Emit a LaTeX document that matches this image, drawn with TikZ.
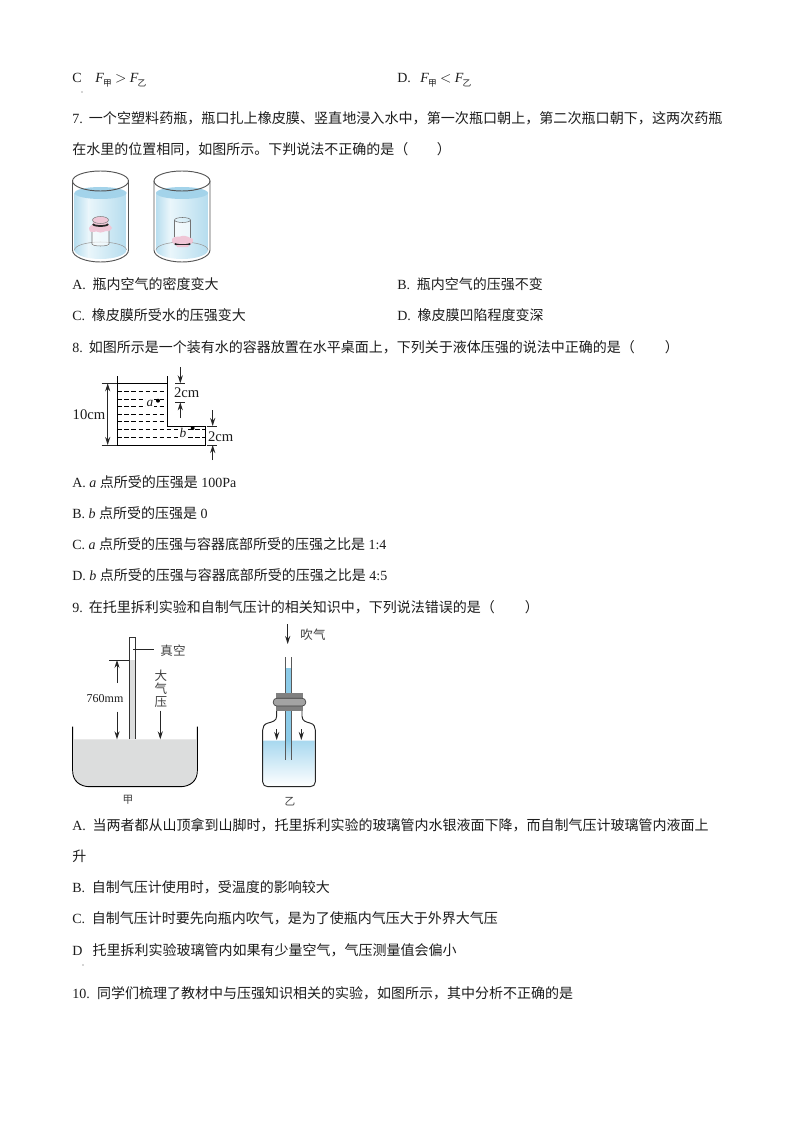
\documentclass[tikz,border=0pt]{standalone}
\usepackage{fontspec}
\setmainfont{Liberation Serif}
\newfontfamily\cjk{Noto Sans CJK SC}
\definecolor{txt}{HTML}{1C1C1C}
\definecolor{watertop}{HTML}{A3D3EA}
\definecolor{waterside}{HTML}{B4DCEE}
\definecolor{waterlite}{HTML}{EAF6FB}
\definecolor{memb}{HTML}{EFC6D6}
\definecolor{glass}{HTML}{555555}
\definecolor{merc}{HTML}{DCDDDD}
\definecolor{tubeblue}{HTML}{8CCBE8}
\definecolor{jarblue}{HTML}{A8D8EF}
\usetikzlibrary{arrows.meta}
\tikzset{
  line/.style={font=\fontsize{10.5pt}{12pt}\selectfont,text=txt,anchor=base west,inner sep=0pt},
  wideline/.style={line,font=\fontsize{10.56pt}{12pt}\selectfont},
  lab/.style={font=\fontsize{11pt}{12pt}\selectfont,text=txt,inner sep=0pt},
  clab/.style={font=\cjk\fontsize{9.4pt}{10pt}\selectfont,text=black!75,inner sep=0pt},
  slab/.style={font=\cjk\fontsize{8pt}{9pt}\selectfont,text=black!75,inner sep=0pt},
  dim/.style={-{Stealth[length=6pt,width=3.8pt]},line width=0.7pt,black!85},
  thin2/.style={line width=0.7pt,black!85},
  cylwall/.style={line width=0.7pt,glass},
}
\newcommand{\Fsub}[1]{{\itshape F}\kern-0.5pt\raisebox{-2.5pt}{\cjk\fontsize{6.5pt}{7pt}\selectfont #1}}
\newcommand{\glasscyl}[1]{%
  \begin{scope}
    \clip (#1-26,193) -- (#1-26,250) arc[start angle=180,end angle=0,x radius=26,y radius=9] -- (#1+26,193) -- cycle;
    \shade[left color=waterside,right color=waterlite] (#1-27,190) rectangle (#1-12,262);
    \shade[left color=waterlite,right color=waterside] (#1-12.1,190) rectangle (#1+27,262);
  \end{scope}
  \draw[line width=0.4pt,black!40] (#1-26,250) arc[start angle=180,end angle=0,x radius=26,y radius=-8];
  \fill[watertop] (#1,193) ellipse[x radius=26,y radius=6];
  \draw[cylwall] (#1,181) ellipse[x radius=28,y radius=10];
  \draw[cylwall] (#1-28,181) -- (#1-28,250) arc[start angle=180,end angle=0,x radius=28,y radius=12] -- (#1+28,181);
}
\begin{document}
\begin{tikzpicture}[x=0.75pt,y=-0.75pt]
\useasboundingbox (0,0) rectangle (794,1123);
\fill[white] (0,0) rectangle (794,1123);

% text lines
\node[line] (c6) at (72,83) {C};
\fill[black!70] (82,92) circle[radius=0.6];
\node[line] (c6f) at (95,83) {\Fsub{甲}\kern2.5pt${>}$\kern2.5pt\Fsub{乙}};
\node[line] (d6) at (397,83) {D.};
\node[line] (d6f) at (420,83) {\Fsub{甲}\kern2.5pt${<}$\kern2.5pt\Fsub{乙}};

\node[wideline] (q7a) at (72,124) {7. \kern1pt{\cjk 一个空塑料药瓶，瓶口扎上橡皮膜、竖直地浸入水中，第一次瓶口朝上，第二次瓶口朝下，这两次药瓶}};
\node[line] (q7b) at (72,154.5) {{\cjk 在水里的位置相同，如图所示。下判说法不正确的是（\hspace{21.5pt}）}};
\node[line] (a7) at (72,289) {A. \kern2.5pt{\cjk 瓶内空气的密度变大}};
\node[line] (b7) at (397,289) {B. \kern2.5pt{\cjk 瓶内空气的压强不变}};
\node[line] (c7) at (72,320) {C. \kern2.5pt{\cjk 橡皮膜所受水的压强变大}};
\node[line] (d7) at (397,320) {D. \kern2.5pt{\cjk 橡皮膜凹陷程度变深}};
\node[line] (q8) at (72,352) {8. \kern1pt{\cjk 如图所示是一个装有水的容器放置在水平桌面上，下列关于液体压强的说法中正确的是（\hspace{22.5pt}）}};
\node[line] (a8) at (72,487) {A. {\itshape a} {\cjk 点所受的压强是} 100Pa};
\node[line] (b8) at (72,518) {B. {\itshape b} {\cjk 点所受的压强是} 0};
\node[line] (c8) at (72,549) {C. {\itshape a} {\cjk 点所受的压强与容器底部所受的压强之比是} 1:4};
\node[line] (d8) at (72,580) {D. {\itshape b} {\cjk 点所受的压强与容器底部所受的压强之比是} 4:5};
\node[line] (q9) at (72,612) {9. \kern1pt{\cjk 在托里拆利实验和自制气压计的相关知识中，下列说法错误的是（\hspace{22.5pt}）}};
\node[line] (a9a) at (72,830) {A. \kern2.5pt{\cjk 当两者都从山顶拿到山脚时，托里拆利实验的玻璃管内水银液面下降，而自制气压计玻璃管内液面上}};
\node[line] (a9b) at (72,861) {{\cjk 升}};
\node[line] (b9) at (72,892) {B. \kern2.5pt{\cjk 自制气压计使用时，受温度的影响较大}};
\node[line] (c9) at (72,923) {C. \kern2.5pt{\cjk 自制气压计时要先向瓶内吹气，是为了使瓶内气压大于外界大气压}};
\node[line] (d9) at (72,955) {D \kern5pt{\cjk 托里拆利实验玻璃管内如果有少量空气，气压测量值会偏小}};
\fill[black!70] (83,965) circle[radius=0.6];
\node[line] (q10) at (72,998) {10. \kern2pt{\cjk 同学们梳理了教材中与压强知识相关的实验，如图所示，其中分析不正确的是}};

% ---------- Q7 cylinders
\glasscyl{100.5}
\glasscyl{182}
% bottle opening up
\fill[white,opacity=.6] (92,226) rectangle (109,246);
\draw[line width=0.4pt,black!55] (92,226) -- (92,244) arc[start angle=180,end angle=0,x radius=8.5,y radius=2] -- (109,226);
\fill[memb] (89,228) .. controls (91,224) and (93,226) .. (93,222) -- (108,222) .. controls (108,226) and (110,224) .. (112,228) .. controls (110,233) and (106,230) .. (103,232) .. controls (99,234) and (97,230) .. (94,232) .. controls (92,233) and (89,232) .. (89,228) -- cycle;
\fill[memb] (100.5,220) ellipse[x radius=8,y radius=3.5];
\draw[line width=0.4pt,black!50] (100.5,220) ellipse[x radius=8,y radius=3.5];
\draw[line width=1.3pt,black!85] (93,224) arc[start angle=180,end angle=0,x radius=7.5,y radius=2];
% bottle opening down
\fill[white,opacity=.6] (175,222) rectangle (191,240);
\draw[line width=0.4pt,black!55] (182.5,220) ellipse[x radius=8,y radius=2.5];
\draw[line width=0.4pt,black!55] (174.5,220) -- (174.5,240) (190.5,220) -- (190.5,240);
\fill[memb] (172,239) .. controls (175,235) and (178,238) .. (182,236) .. controls (186,235) and (190,238) .. (193,239) .. controls (194,243) and (190,245) .. (188,245) -- (177,245) .. controls (175,245) and (171,243) .. (172,239) -- cycle;
\draw[line width=1.3pt,black!85] (175,243.5) arc[start angle=180,end angle=0,x radius=7.5,y radius=1.6];
\fill[memb] (176,245) -- (189,245) -- (188,247) -- (177,247) -- cycle;

% ---------- Q8 container
\draw[line width=0.7pt,black] (117.3,376) -- (117.3,445) -- (205.7,445) -- (205.7,426) -- (167.7,426) -- (167.7,376);
\draw[line width=0.7pt,black] (117.3,383.3) -- (167.7,383.3);
\foreach \yy in {391,399.3,406.7,414,421.3}
  \draw[line width=0.6pt,black,dash pattern=on 3.4pt off 1.9pt] (117.3,\yy) -- (167.7,\yy);
\foreach \yy in {429.7,437}
  \draw[line width=0.6pt,black,dash pattern=on 3.4pt off 1.9pt] (117.3,\yy) -- (205.7,\yy);
\coordinate (tenT) at (107.7,383.3);
\coordinate (tenB) at (107.7,445);
\draw[thin2] (101.7,383.3) -- (117.3,383.3) (101.7,445) -- (117.3,445);
\draw[dim,{Stealth[length=6pt,width=3.8pt]}-{Stealth[length=6pt,width=3.8pt]}] (tenT) -- (tenB);
\node[lab] (ten) at (89,415) {10cm};
\node[lab,fill=white,inner sep=0.5pt,font=\itshape\fontsize{10pt}{12pt}\selectfont] (pa) at (150,403) {a};
\fill[black] (158,400.7) circle[radius=2];
\node[lab,fill=white,inner sep=0.5pt,font=\itshape\fontsize{10pt}{12pt}\selectfont] (pb) at (183,432.5) {b};
\fill[black] (192.7,428) circle[radius=2];
\draw[thin2] (175,383.3) -- (185,383.3) (175,402.3) -- (185,402.3);
\coordinate (ua) at (180.3,367); \coordinate (ub) at (180.3,383.3);
\coordinate (uc) at (180.3,418); \coordinate (ud) at (180.3,402.3);
\draw[dim] (ua) -- (ub);
\draw[dim] (uc) -- (ud);
\node[lab] (twoU) at (186.7,393) {2cm};
\draw[thin2] (206.7,426) -- (217,426) (206.7,445) -- (217,445);
\coordinate (la) at (212.7,410); \coordinate (lb) at (212.7,426);
\coordinate (lc) at (212.7,460); \coordinate (ld) at (212.7,445);
\draw[dim] (la) -- (lb);
\draw[dim] (lc) -- (ld);
\node[lab] (twoL) at (220.7,436.5) {2cm};

% ---------- Q9 left
\fill[merc] (74,739.3) -- (74,771) .. controls (74,781) and (80,786) .. (90,786) -- (180,786) .. controls (190,786) and (196,781) .. (196,771) -- (196,739.3) -- cycle;
\fill[merc] (129.3,660) rectangle (135.7,739.3);
\draw[line width=0.7pt,black] (72.7,726.7) -- (72.7,771) .. controls (72.7,781) and (80,786.7) .. (90,786.7) -- (180,786.7) .. controls (190,786.7) and (197.3,781) .. (197.3,771) -- (197.3,726.7);
\draw[line width=0.7pt,black!80] (129.3,739.3) -- (129.3,637.3) -- (135.7,637.3) -- (135.7,739.3);
\draw[thin2] (109,660) -- (129.3,660);
\draw[thin2] (133.3,649.3) -- (154,649.3);
\node[clab] (vac) at (173,651) {真空};
\node[lab,font=\fontsize{9pt}{10pt}\selectfont] (mm) at (105,699) {760mm};
\coordinate (ma) at (117,683); \coordinate (mb) at (117,660);
\coordinate (mc) at (117,711.7); \coordinate (md) at (117,739.3);
\draw[dim] (ma) -- (mb);
\draw[dim] (mc) -- (md);
\node[clab] (d1) at (161,676) {大};
\node[clab] (d2) at (161,689) {气};
\node[clab] (d3) at (161,702.5) {压};
\coordinate (pa1) at (160.3,710.7); \coordinate (pa2) at (160.3,739.3);
\draw[dim] (pa1) -- (pa2);
\node[slab] (jia) at (128,800) {甲};

% ---------- Q9 right
\coordinate (ba) at (287.7,624); \coordinate (bb) at (287.7,644);
\draw[dim] (ba) -- (bb);
\node[clab] (blow) at (313,635) {吹气};
\shade[top color=jarblue,bottom color=white] (263.3,740.7) -- (263.3,782) .. controls (263.3,785) and (265,786.5) .. (268,786.5) -- (310,786.5) .. controls (313,786.5) and (314.7,785) .. (314.7,782) -- (314.7,740.7) -- cycle;
\draw[line width=0.7pt,black!85] (276.7,710) -- (276.7,716) .. controls (276.7,721) and (272,722) .. (268,723) .. controls (264,724) and (262.7,727) .. (262.7,730) -- (262.7,782) .. controls (262.7,785) and (265,786.7) .. (268,786.7) -- (310,786.7) .. controls (313,786.7) and (315.3,785) .. (315.3,782) -- (315.3,730) .. controls (315.3,727) and (314,724) .. (310,723) .. controls (306,722) and (302,721) .. (302,716) -- (302,710);
\fill[tubeblue] (285.7,668) rectangle (291,740.7);
\shade[top color=tubeblue,bottom color=jarblue!60] (285.7,740.7) rectangle (291,760);
\draw[line width=0.5pt,black!65] (285.7,657.3) -- (285.7,760) (291,657.3) -- (291,760);
\fill[black!50] (276,693.3) rectangle (302.7,710.7);
\fill[black!36,rounded corners=2.5pt] (273.3,698.3) rectangle (305.7,706);
\draw[line width=0.5pt,black!75,rounded corners=2.5pt] (273.3,698.3) rectangle (305.7,706);
\coordinate (sa) at (276.7,729); \coordinate (sb) at (276.7,740);
\coordinate (sc) at (301.3,729); \coordinate (sd) at (301.3,740);
\draw[dim] (sa) -- (sb);
\draw[dim] (sc) -- (sd);
\node[slab] (yi) at (290,801.5) {乙};
\end{tikzpicture}
\end{document}
